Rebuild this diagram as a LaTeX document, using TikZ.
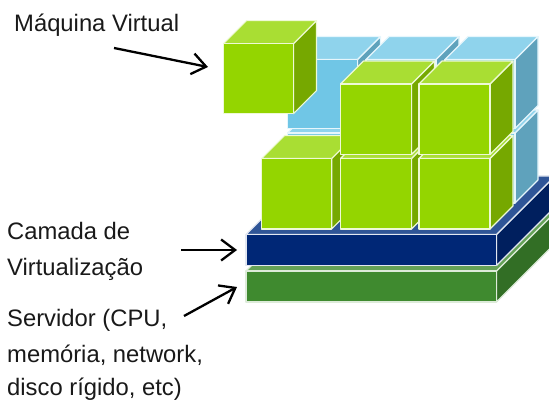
\documentclass[tikz,border=0pt]{standalone}
\usepackage{fontspec}
\setmainfont{Liberation Sans}
\usetikzlibrary{arrows.meta}
\definecolor{gF}{HTML}{94D500}\definecolor{gT}{HTML}{A9DE33}\definecolor{gS}{HTML}{76A800}
\definecolor{bF}{HTML}{70C6E6}\definecolor{bT}{HTML}{8FD3EC}\definecolor{bS}{HTML}{5FA2BC}
\definecolor{nF}{HTML}{002776}\definecolor{nT}{HTML}{2F5597}\definecolor{nS}{HTML}{001F5E}
\definecolor{tF}{HTML}{3F8A2F}\definecolor{tT}{HTML}{65A257}\definecolor{tS}{HTML}{326E25}
\definecolor{eG}{HTML}{EEF9D6}\definecolor{eB}{HTML}{E6F6FC}\definecolor{eN}{HTML}{E2E7F1}\definecolor{eT}{HTML}{DDEBD9}
\tikzset{x=1pt,y=-1pt,
 edge/.style={line width=1.1pt,line join=round},
 lbl/.style={font=\fontsize{23.8}{28}\selectfont,inner sep=0pt,anchor=base west,text=black!90},
 pointer/.style={line width=2.3pt,-{Straight Barb[length=14pt,width=21pt,line width=2.3pt]}}}
% \cube{x}{y}{w}{h}{d}{front}{top}{side}{edge}: (x,y)=front top-left
\newcommand{\cube}[9]{%
 \fill[#8,draw=#9,edge] (#1+#3,#2) -- ++(#5,-#5) -- ++(0,#4) -- ++(-#5,#5) -- cycle;
 \fill[#7,draw=#9,edge] (#1,#2) -- ++(#5,-#5) -- ++(#3,0) -- ++(-#5,#5) -- cycle;
 \fill[#6,draw=#9,edge] (#1,#2) rectangle ++(#3,#4);}
\begin{document}
\begin{tikzpicture}
\useasboundingbox (0,0) rectangle (549,401);
\begin{scope}
\clip (0,0) rectangle (549,401);
% server and virtualisation layers
\cube{246}{271}{250.5}{31}{58.5}{tF}{tT}{tS}{eT}
\cube{246}{234.5}{250.5}{31}{58.5}{nF}{nT}{nS}{eN}
% blue cubes, lower row
\cube{287.5}{133}{70}{70}{23}{bF}{bT}{bS}{eB}
\cube{366}{133}{70}{70}{23}{bF}{bT}{bS}{eB}
\cube{445}{133}{70}{70}{23}{bF}{bT}{bS}{eB}
% blue cubes, upper row
\cube{287.5}{59.5}{70}{69}{23}{bF}{bT}{bS}{eB}
\cube{366}{59.5}{70}{69}{23}{bF}{bT}{bS}{eB}
\cube{445}{59.5}{70}{69}{23}{bF}{bT}{bS}{eB}
% green cubes
\cube{223.5}{43.7}{70}{70}{23}{gF}{gT}{gS}{eG}
\cube{261.7}{158.5}{70}{70.5}{23}{gF}{gT}{gS}{eG}
\cube{340.5}{158.5}{71}{70.5}{23}{gF}{gT}{gS}{eG}
\cube{419}{158.5}{71}{70.5}{23}{gF}{gT}{gS}{eG}
\cube{340.5}{84}{71}{70.5}{23}{gF}{gT}{gS}{eG}
\cube{419}{84}{71}{70.5}{23}{gF}{gT}{gS}{eG}
\end{scope}
% labels
\node[lbl] (vm) at (14,32) {Máquina Virtual};
\node[lbl] (cam1) at (7,239) {Camada de};
\node[lbl] (cam2) at (7,275) {Virtualização};
\node[lbl] (srv1) at (7,326) {Servidor (CPU,};
\node[lbl] (srv2) at (7,362) {memória, network,};
\node[lbl] (srv3) at (7,395.5) {disco rígido, etc)};
% pointers
\coordinate (a1s) at (114,48); \coordinate (a1e) at (208,67);
\coordinate (a2s) at (181,250); \coordinate (a2e) at (237,250);
\coordinate (a3s) at (184,316); \coordinate (a3e) at (237,287);
\draw[pointer] (a1s) -- (a1e);
\draw[pointer] (a2s) -- (a2e);
\draw[pointer] (a3s) -- (a3e);
\end{tikzpicture}
\end{document}
